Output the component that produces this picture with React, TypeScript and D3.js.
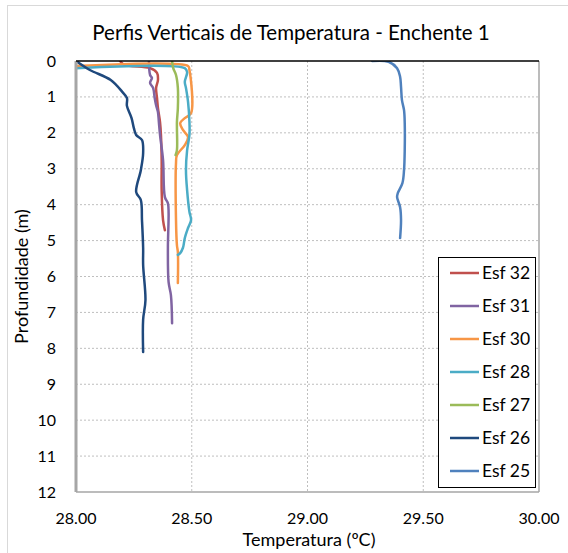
import React from "react";
import * as d3 from "d3";

const title = "Perfis Verticais de Temperatura - Enchente 1";
const xTicks = [28.0, 28.5, 29.0, 29.5, 30.0];
const yTicks = [0, 1, 2, 3, 4, 5, 6, 7, 8, 9, 10, 11, 12];

const esf32T = [28.19, 28.21, 28.32, 28.35, 28.354, 28.346, 28.35, 28.354, 28.363, 28.367, 28.37, 28.37, 28.376, 28.384];
const esf32D = [0, 0.11, 0.2, 0.33, 0.53, 0.75, 1.03, 1.31, 1.7, 2.06, 2.76, 3.6, 4.43, 4.71];

const esf31T = [28.315, 28.32, 28.328, 28.32, 28.333, 28.34, 28.346, 28.354, 28.358, 28.363, 28.376, 28.384, 28.397, 28.4, 28.397, 28.4, 28.41, 28.415];
const esf31D = [0, 0.39, 0.47, 0.61, 0.75, 1.03, 1.23, 1.42, 1.7, 2.06, 2.76, 3.79, 3.96, 4.23, 5.21, 6.16, 6.52, 7.3];

const esf30T = [28.0, 28.484, 28.49, 28.497, 28.47, 28.45, 28.462, 28.484, 28.47, 28.436, 28.432, 28.432, 28.436, 28.44, 28.44];
const esf30D = [0.14, 0.14, 0.25, 1.45, 1.59, 1.73, 1.92, 2.12, 2.34, 2.62, 2.84, 4.43, 5.13, 5.32, 6.18];

const esf28T = [28.0, 28.47, 28.48, 28.47, 28.475, 28.484, 28.49, 28.49, 28.48, 28.475, 28.48, 28.49, 28.497, 28.484, 28.47, 28.462, 28.45, 28.44];
const esf28D = [0.2, 0.2, 0.31, 0.58, 0.75, 1.14, 1.7, 2.06, 2.48, 3.04, 3.6, 4.2, 4.43, 4.65, 4.93, 5.2, 5.35, 5.4];

const esf27T = [28.415, 28.42, 28.432, 28.44, 28.44, 28.436, 28.436, 28.43];
const esf27D = [0, 0.2, 0.39, 0.75, 1.31, 1.7, 2.48, 2.62];

const esf26T = [28.0, 28.06, 28.15, 28.2, 28.22, 28.22, 28.24, 28.25, 28.26, 28.285, 28.29, 28.28, 28.26, 28.28, 28.285, 28.29, 28.29, 28.3, 28.29, 28.29];
const esf26D = [0, 0.25, 0.53, 0.86, 1.03, 1.25, 1.59, 1.87, 2.06, 2.2, 2.56, 3.04, 3.65, 3.87, 4.43, 5.2, 5.68, 6.66, 7.2, 8.1];

const esf25T = [29.279, 29.35, 29.387, 29.4, 29.404, 29.408, 29.417, 29.42, 29.42, 29.417, 29.41, 29.39, 29.387, 29.4, 29.404, 29.4];
const esf25D = [0, 0.02, 0.2, 0.44, 0.72, 1.09, 1.37, 1.73, 2.48, 3.04, 3.4, 3.68, 3.79, 4.07, 4.43, 4.93];

const seriesNames = ["Esf 32", "Esf 31", "Esf 30", "Esf 28", "Esf 27", "Esf 26", "Esf 25"];
const seriesT = [esf32T, esf31T, esf30T, esf28T, esf27T, esf26T, esf25T];
const seriesD = [esf32D, esf31D, esf30D, esf28D, esf27D, esf26D, esf25D];
const colors = ["#C0504D", "#8064A2", "#F79646", "#4BACC6", "#9BBB59", "#1F497D", "#4F81BD"];

const W = 568;
const H = 553;
const L = 76, R = 539, T = 61, B = 492;
const FONT = "Lato, 'Liberation Sans', sans-serif";

export default function App() {
  const x = d3.scaleLinear().domain([28, 30]).range([L, R]);
  const y = d3.scaleLinear().domain([0, 12]).range([T, B]);
  const line = d3
    .line<[number, number]>()
    .x((p) => x(p[0]))
    .y((p) => y(p[1]))
    .curve(d3.curveCatmullRom.alpha(0.5));

  const legX = 438, legY = 257, legW = 97, legH = 230, legStep = 33;

  return (
    <div style={{ position: "absolute", left: 0, top: 0 }}>
      <svg width={W} height={H} style={{ display: "block", fontFamily: FONT }}>
        <rect x={0} y={0} width={W} height={H} fill="#fff" />
        <rect x={7.5} y={5.5} width={W - 6} height={H - 4} fill="none" stroke="#d9d9d9" />
        <text x={291} y={40} textAnchor="middle" fontSize={20.5} fill="#000">{title}</text>

        {/* gridlines */}
        {yTicks.slice(1, -1).map((t) => (
          <line key={"gy" + t} x1={L} x2={R} y1={y(t)} y2={y(t)} stroke="#bfbfbf" strokeDasharray="2,2" strokeWidth={1} />
        ))}
        {xTicks.slice(1, -1).map((t) => (
          <line key={"gx" + t} x1={x(t)} x2={x(t)} y1={T} y2={B} stroke="#bfbfbf" strokeDasharray="2,2" strokeWidth={1} />
        ))}
        {/* plot border */}
        <line x1={L} x2={R} y1={B} y2={B} stroke="#a6a6a6" strokeWidth={1.5} />
        <line x1={R} x2={R} y1={T} y2={B} stroke="#a6a6a6" strokeWidth={1.5} />

        <defs>
          <clipPath id="plotclip">
            <rect x={L} y={T} width={R - L} height={B - T} />
          </clipPath>
        </defs>
        <g clipPath="url(#plotclip)">
          {seriesNames.map((n, i) => {
            const pts = seriesT[i].map((t, k) => [t, seriesD[i][k]] as [number, number]);
            return (
              <path key={n} d={line(pts) || ""} fill="none" stroke={colors[i]} strokeWidth={2.5} strokeLinejoin="round" strokeLinecap="round" />
            );
          })}
        </g>

        {/* axes */}
        <line x1={L} x2={L} y1={T} y2={B} stroke="#a6a6a6" strokeWidth={3} />
        <line x1={L} x2={R} y1={T} y2={T} stroke="#000" strokeWidth={1.5} />

        {yTicks.map((t) => (
          <text key={"yt" + t} x={56} y={y(t) + 5.5} textAnchor="end" fontSize={16} fill="#000">{t}</text>
        ))}
        {xTicks.map((t) => (
          <text key={"xt" + t} x={x(t)} y={524} textAnchor="middle" fontSize={16} fill="#000">{t.toFixed(2)}</text>
        ))}

        <text x={309} y={546} textAnchor="middle" fontSize={18} fill="#000">Temperatura (ºC)</text>
        <text transform={`translate(28, ${(T + B) / 2}) rotate(-90)`} textAnchor="middle" fontSize={18} fill="#000">Profundidade (m)</text>

        {/* legend */}
        <rect x={legX + 0.5} y={legY + 0.5} width={legW} height={legH} fill="#fff" stroke="#000" strokeWidth={1} />
        {seriesNames.map((n, i) => (
          <g key={"lg" + n} transform={`translate(${legX}, ${legY + 16 + i * legStep})`}>
            <line x1={12} x2={41} y1={0} y2={0} stroke={colors[i]} strokeWidth={2.5} />
            <text x={44} y={6} fontSize={17.5} fill="#000">{n}</text>
          </g>
        ))}
      </svg>
    </div>
  );
}
